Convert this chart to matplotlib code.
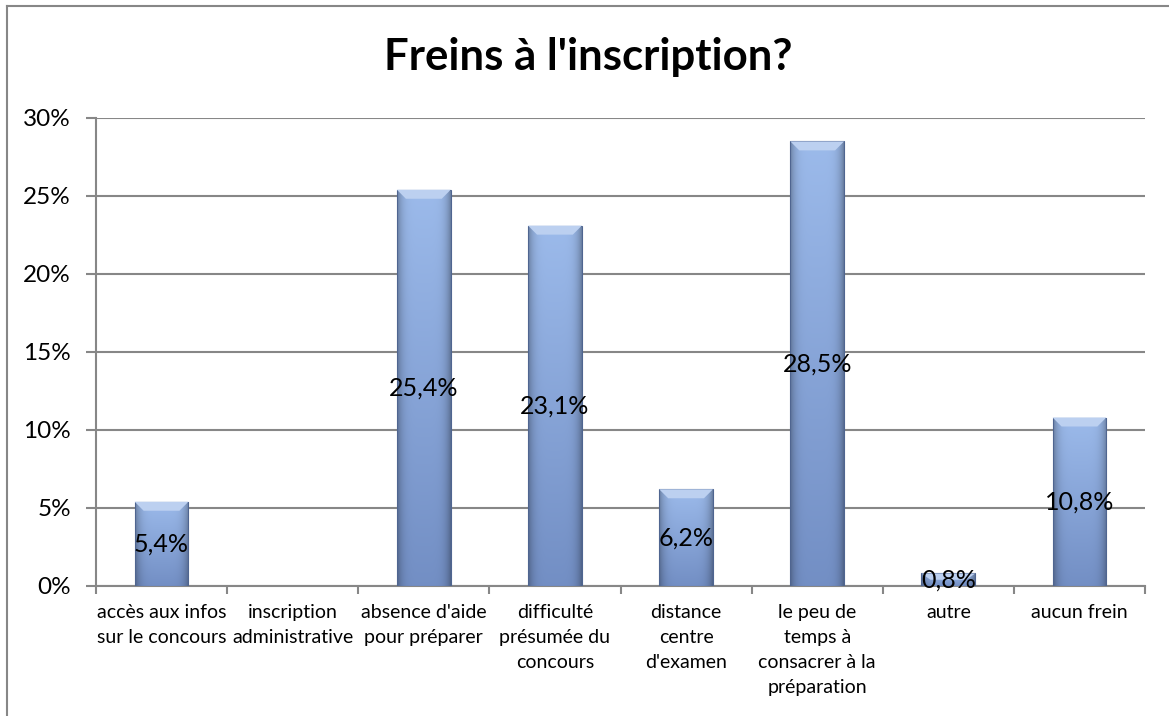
import numpy as np
from matplotlib import pyplot as plt
from matplotlib.lines import Line2D
from matplotlib.patches import Polygon
from matplotlib.ticker import FuncFormatter, MultipleLocator

plt.rcParams['font.family'] = ['Lato', 'DejaVu Sans']

title = "Freins à l'inscription?"
categories = ["accès aux infos\nsur le concours",
              "inscription\nadministrative",
              "absence d'aide\npour préparer",
              "difficulté\nprésumée du\nconcours",
              "distance\ncentre\nd'examen",
              "le peu de\ntemps à\nconsacrer à la\npréparation",
              "autre",
              "aucun frein"]
values = [0.054, 0.0, 0.254, 0.231, 0.062, 0.285, 0.008, 0.108]
labels = ["5,4%", "", "25,4%", "23,1%", "6,2%", "28,5%", "0,8%", "10,8%"]

GRID = "#878787"

fig = plt.figure(figsize=(11.69, 7.16), dpi=100)
ax = fig.add_axes([0.0821, 0.1816, 0.8974, 0.6536])

x = np.arange(len(values))
bars = ax.bar(x, values, width=0.41, color="none", edgecolor="none", zorder=3)

ax.set_xlim(-0.5, len(values) - 0.5)
ax.set_ylim(0, 0.30)

# shaded fill for each bar (lighter top, darker sides), like the Excel bevel style
top_col = np.array([0.61, 0.73, 0.92])
bot_col = np.array([0.45, 0.56, 0.77])
nx, ny = 60, 100
u = np.linspace(0, 1, nx)
side = 1 - 0.30 * np.abs(2 * u - 1) ** 5
v = np.linspace(0, 1, ny)[:, None, None]
grad = (top_col * (1 - v) + bot_col * v) * side[None, :, None]

px_per_y = ax.get_window_extent().height / 0.30
px_per_x = ax.get_window_extent().width / len(values)
for b, val in zip(bars, values):
    if val <= 0:
        continue
    x0, w, h = b.get_x(), b.get_width(), b.get_height()
    im = ax.imshow(grad, extent=(x0, x0 + w, 0, h), aspect="auto",
                   origin="upper", zorder=3, interpolation="bilinear")
    im.set_clip_path(b)
    ax.add_patch(plt.Rectangle((x0, 0), w, h, fill=False,
                               edgecolor="#4f6590", linewidth=0.8, zorder=4))
    dy = min(9 / px_per_y, h / 2)
    dx = min(9 / px_per_x, w / 2)
    ax.add_patch(Polygon([(x0, h), (x0 + w, h), (x0 + w - dx, h - dy),
                          (x0 + dx, h - dy)], closed=True,
                         facecolor="#bcd0f0", edgecolor="none", zorder=4))

for b, val, lab in zip(bars, values, labels):
    if lab:
        ax.text(b.get_x() + b.get_width() / 2, val / 2, lab, ha="center",
                va="center", fontsize=18, color="black", zorder=5)

ax.yaxis.set_major_locator(MultipleLocator(0.05))
ax.yaxis.set_major_formatter(FuncFormatter(lambda v, p: f"{v * 100:.0f}%"))
ax.grid(axis="y", color=GRID, linewidth=1.5, zorder=0)
ax.set_axisbelow(True)

ax.set_xticks(x)
ax.set_xticklabels(categories, fontsize=14, linespacing=1.58)
ax.set_xticks(np.arange(len(values) + 1) - 0.5, minor=True)
ax.tick_params(axis="x", which="major", length=0, pad=13)
ax.tick_params(axis="x", which="minor", length=6, width=1.5, color=GRID)
ax.tick_params(axis="y", length=7, width=1.5, color=GRID, labelsize=17.5, pad=11)

for s in ["top", "right"]:
    ax.spines[s].set_visible(False)
for s in ["left", "bottom"]:
    ax.spines[s].set_color(GRID)
    ax.spines[s].set_linewidth(1.5)

fig.text(0.503, 0.92, title, ha="center", va="center", fontsize=31.5,
         fontweight="bold")

# outer chart frame (only top and left edges are visible in the crop)
fig.add_artist(Line2D([0.006, 1.0], [0.9916, 0.9916], color=GRID, linewidth=1.5,
                      transform=fig.transFigure))
fig.add_artist(Line2D([0.006, 0.006], [0.0, 0.9916], color=GRID, linewidth=1.5,
                      transform=fig.transFigure))

fig.savefig("out.png", dpi=100)
plt.close(fig)
